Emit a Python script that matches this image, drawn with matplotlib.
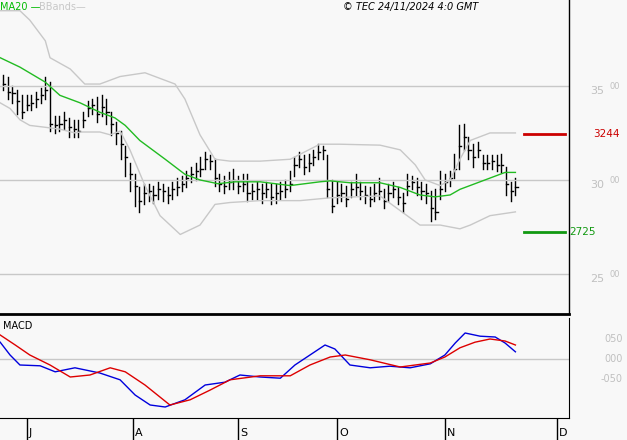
import matplotlib.pyplot as plt
import numpy as np

# daily closes (bar index 0..N-1, late June -> 22 Nov 2024)
closes = [35.1, 34.7, 34.6, 34.2, 33.6, 34.0, 34.1, 34.3, 34.5, 34.8,
          33.0, 32.9, 33.0, 33.2, 32.8, 32.7, 32.6, 33.2, 33.8, 34.0,
          33.5, 33.9, 33.6, 33.0, 32.5, 31.9, 31.2, 30.3, 29.7, 28.9,
          29.3, 29.4, 29.2, 29.5, 29.4, 29.2, 29.5, 29.6, 29.8, 30.1,
          30.3, 30.5, 30.6, 31.1, 31.0, 30.1, 29.8, 29.7, 29.9, 30.0,
          29.7, 29.8, 29.3, 29.4, 29.5, 29.3, 29.5, 29.1, 29.3, 29.4,
          29.5, 29.8, 30.8, 31.1, 30.7, 30.9, 31.2, 31.5, 31.6, 29.5,
          28.6, 29.2, 29.3, 29.0, 29.5, 29.6, 29.4, 29.2, 29.0, 29.3,
          29.4, 28.9, 29.3, 29.5, 29.1, 28.8, 29.7, 29.9, 29.6, 29.4,
          29.3, 28.5, 28.3, 29.5, 29.9, 30.1, 30.6, 31.8, 32.3, 31.6,
          31.2, 31.6, 30.9, 30.9, 31.0, 30.8, 30.8, 29.8, 29.4, 29.6]
highs = [35.6, 35.5, 35.0, 34.8, 34.5, 34.5, 34.5, 34.7, 34.9, 35.5,
         35.2, 33.4, 33.4, 33.6, 33.3, 33.2, 33.2, 33.6, 34.2, 34.3,
         34.4, 34.5, 34.3, 33.6, 33.1, 32.6, 31.8, 30.9, 30.3, 29.6,
         29.8, 29.8, 29.7, 29.9, 29.8, 29.6, 29.9, 30.1, 30.2, 30.5,
         30.7, 30.9, 31.2, 31.5, 31.3, 31.1, 30.3, 30.2, 30.4, 30.6,
         30.2, 30.3, 30.3, 29.8, 29.9, 29.8, 29.9, 29.8, 29.8, 29.9,
         30.0, 30.5, 31.2, 31.5, 31.3, 31.4, 31.6, 31.9, 31.8, 31.3,
         30.0, 29.9, 29.8, 29.7, 29.9, 30.3, 29.9, 29.7, 29.6, 29.8,
         30.1, 29.5, 29.8, 29.9, 29.6, 29.3, 30.3, 30.2, 30.1, 29.9,
         29.8, 29.4, 29.5, 30.5, 30.3, 30.5, 31.4, 32.9, 33.0, 32.3,
         31.9, 32.0, 31.3, 31.3, 31.3, 31.3, 31.4, 30.7, 29.9, 30.1]
lows = [34.8, 34.3, 34.1, 33.5, 33.3, 33.7, 33.7, 33.9, 34.1, 34.3,
        32.6, 32.5, 32.6, 32.7, 32.3, 32.3, 32.3, 32.8, 33.4, 33.5,
        33.1, 33.4, 33.0, 32.4, 31.9, 31.1, 30.2, 29.4, 28.6, 28.3,
        28.7, 28.9, 28.8, 29.0, 28.9, 28.8, 29.0, 29.2, 29.4, 29.6,
        29.9, 30.0, 30.2, 30.6, 30.6, 29.7, 29.4, 29.3, 29.5, 29.5,
        29.3, 29.4, 28.9, 29.0, 29.0, 28.8, 29.1, 28.7, 28.8, 29.0,
        29.1, 29.4, 30.2, 30.7, 30.3, 30.5, 30.8, 31.1, 31.1, 29.1,
        28.3, 28.8, 28.9, 28.6, 29.1, 29.2, 29.0, 28.8, 28.6, 28.9,
        29.0, 28.5, 28.9, 29.1, 28.7, 28.3, 29.2, 29.5, 29.2, 29.0,
        28.8, 27.8, 27.9, 29.0, 29.4, 29.7, 30.1, 30.6, 31.6, 31.1,
        30.7, 31.2, 30.6, 30.6, 30.6, 30.5, 30.4, 29.2, 28.9, 29.2]

# indicator lines sampled at bar indices
ma_idx = [-0.6, 3.6, 9, 12.1, 16.4, 20.6, 23.8, 26, 29.1, 34.5, 38.7, 41.9, 45.7, 49.4, 54.7, 61.1, 67.4, 69.6, 73.8, 80.2, 84.5, 88.7, 91.9, 95.1, 97.2, 100.4, 103.6, 106.8, 109]
ma_val = [36.5, 36.0, 35.2, 34.5, 34.1, 33.6, 33.3, 32.9, 32.1, 31.1, 30.3, 30.0, 29.8, 29.9, 29.9, 29.7, 29.9, 29.95, 29.85, 29.85, 29.6, 29.2, 29.1, 29.2, 29.5, 29.8, 30.1, 30.4, 30.4]
up_idx = [-0.6, 3.6, 5.7, 9, 10, 14.3, 17.4, 20.6, 24.9, 30.2, 36.6, 38.7, 41.9, 45.1, 48.3, 54.7, 61.1, 67.4, 71.7, 80.2, 84.5, 87.7, 89.8, 93, 95.1, 97.2, 99.4, 103.6, 109]
up_val = [39.0, 39.0, 38.5, 37.4, 36.5, 35.9, 35.1, 35.1, 35.5, 35.7, 35.1, 34.3, 32.4, 31.1, 31.0, 31.0, 31.1, 31.9, 31.9, 31.85, 31.6, 30.8, 30.0, 29.7, 30.0, 31.1, 32.1, 32.5, 32.5]
lo_idx = [-0.6, 1.5, 3.6, 5.7, 9, 12.1, 15.3, 16.4, 20.6, 22.8, 24.9, 27, 30.2, 33.4, 37.7, 41.9, 45.1, 48.3, 54.7, 63.2, 69.6, 80.2, 88.7, 93, 97.2, 99.4, 103.6, 109]
lo_val = [34.1, 33.8, 33.2, 32.9, 32.8, 32.7, 32.5, 32.55, 32.55, 32.4, 32.6, 31.6, 29.7, 28.1, 27.1, 27.6, 28.7, 28.8, 28.9, 28.9, 29.05, 29.15, 27.6, 27.6, 27.4, 27.6, 28.1, 28.3]

macd_idx = [-0.6, 1.5, 3.6, 7.9, 11.1, 15.3, 20.6, 24.9, 28.1, 31.3, 34.5, 38.7, 43, 47.2, 50.4, 54.7, 59, 62.1, 65.3, 68.5, 70.6, 73.8, 78.1, 82.3, 86.6, 90.9, 94, 96.2, 98.3, 101.5, 104.7, 106.8, 109]
macd_val = [0.42, 0.1, -0.15, -0.17, -0.32, -0.22, -0.35, -0.52, -0.9, -1.15, -1.2, -1.02, -0.65, -0.58, -0.4, -0.45, -0.48, -0.15, 0.1, 0.35, 0.25, -0.15, -0.22, -0.18, -0.22, -0.12, 0.1, 0.4, 0.65, 0.57, 0.55, 0.4, 0.18]
sig_idx = [-0.6, 2.6, 5.7, 10, 14.3, 18.5, 22.8, 26, 30.2, 35.5, 39.8, 44.0, 48.3, 54.7, 61.1, 65.3, 69.6, 72.8, 78.1, 84.5, 90.9, 94, 97.2, 100.4, 103.6, 106.8, 109]
sig_val = [0.6, 0.35, 0.1, -0.15, -0.45, -0.4, -0.22, -0.32, -0.65, -1.15, -1.02, -0.78, -0.52, -0.42, -0.42, -0.15, 0.05, 0.1, -0.02, -0.2, -0.1, 0.05, 0.28, 0.42, 0.5, 0.45, 0.35]

month_labels = ["J", "A", "S", "O", "N", "D"]
month_pos = [5.1, 27.7, 50.0, 71.1, 94.0, 117.9]
price_ticks = [25, 30, 35]
macd_ticks = [0.5, 0.0, -0.5]
macd_tick_labels = ["050", "000", "-050"]
resistance, support = 32.44, 27.25

BG = "#f8f8f8"
GRID = "#c8c8c8"
LBL = "#c0c0c0"
XL = (-0.64, 120.4)

fig = plt.figure(figsize=(6.27, 4.4), dpi=100, facecolor=BG)
ax = fig.add_axes([0, 126 / 440, 569 / 627, 314 / 440], facecolor=BG)
ax2 = fig.add_axes([0, 22 / 440, 569 / 627, 100 / 440], facecolor=BG)

# price panel
x = np.arange(len(closes))
for i in x:
    ax.plot([i, i], [lows[i], highs[i]], color="black", lw=1.0)
    ax.plot([i, i + 0.45], [closes[i], closes[i]], color="black", lw=1.0)
for t in price_ticks:
    ax.axhline(t, color=GRID, lw=1)
ax.plot(up_idx, up_val, color="#c8c8c8", lw=1)
ax.plot(lo_idx, lo_val, color="#c8c8c8", lw=1)
ax.plot(ma_idx, ma_val, color="#22bb22", lw=1)
ax.plot([110.8, 119.6], [resistance, resistance], color="#cc0000", lw=2)
ax.plot([110.8, 119.6], [support, support], color="#119911", lw=2)
ax.set_xlim(*XL)
ax.set_ylim(22.87, 39.57)
for t in price_ticks:
    ax.text(1.037, t - 0.25, f"{t}", transform=ax.get_yaxis_transform(), color=LBL,
            fontsize=8, va="center", ha="left")
    ax.text(1.072, t - 0.05, "00", transform=ax.get_yaxis_transform(), color=LBL,
            fontsize=6, va="center", ha="left")
ax.text(1.043, resistance, "3244", transform=ax.get_yaxis_transform(), color="#cc0000",
        fontsize=7.5, va="center", ha="left")
ax.text(1.0, support, "2725", transform=ax.get_yaxis_transform(), color="#119911",
        fontsize=7.5, va="center", ha="left")
ax.text(0.0, 0.995, "MA20 —", transform=ax.transAxes, color="#00bb00", fontsize=7, va="top")
ax.text(0.068, 0.995, "BBands—", transform=ax.transAxes, color="#c8c8c8", fontsize=7, va="top")
ax.text(0.84, 0.995, "© TEC 24/11/2024 4:0 GMT", transform=ax.transAxes, color="black",
        fontsize=7, va="top", ha="right", style="italic")
ax.set_xticks([]); ax.set_yticks([])
for s in ["top", "left"]:
    ax.spines[s].set_visible(False)
ax.spines["bottom"].set_linewidth(2)
ax.spines["right"].set_linewidth(1)

# MACD panel
ax2.axhline(0, color=GRID, lw=1)
ax2.plot(macd_idx, macd_val, color="#0000dd", lw=1)
ax2.plot(sig_idx, sig_val, color="#dd0000", lw=1)
ax2.set_xlim(*XL)
ax2.set_ylim(-1.475, 1.025)
for t, lab in zip(macd_ticks, macd_tick_labels):
    ax2.text(1.094, t, lab, transform=ax2.get_yaxis_transform(), color=LBL,
             fontsize=7, va="center", ha="right")
ax2.text(0.005, 0.97, "MACD", transform=ax2.transAxes, fontsize=7, va="top")
ax2.set_yticks([])
ax2.set_xticks(month_pos)
ax2.set_xticklabels([])
ax2.tick_params(axis="x", direction="out", length=20, width=1)
for p, lab in zip(month_pos, month_labels):
    ax2.text(p + 0.4, -0.1, lab, transform=ax2.get_xaxis_transform(), fontsize=8,
             va="top", ha="left")
for s in ["top", "left"]:
    ax2.spines[s].set_visible(False)

fig.savefig("out.png", dpi=100, facecolor=BG)
